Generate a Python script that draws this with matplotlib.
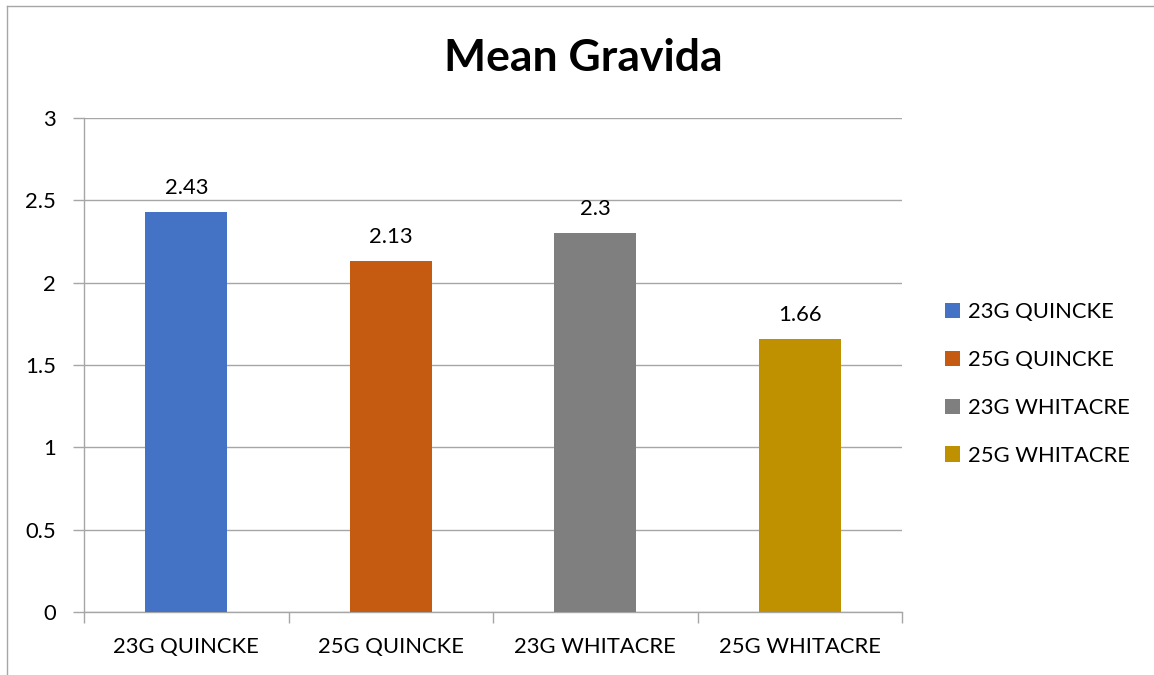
"""Mean Gravida by needle type - clustered column chart."""

import matplotlib

matplotlib.use("Agg")
import matplotlib.pyplot as plt  # noqa: E402
from matplotlib.lines import Line2D  # noqa: E402
from matplotlib.patches import Patch  # noqa: E402

categories = ["23G QUINCKE", "25G QUINCKE", "23G WHITACRE", "25G WHITACRE"]
values = [2.43, 2.13, 2.3, 1.66]
value_labels = ["2.43", "2.13", "2.3", "1.66"]
y_ticks = [0, 0.5, 1, 1.5, 2, 2.5, 3]
y_tick_labels = ["0", "0.5", "1", "1.5", "2", "2.5", "3"]

COLORS = ["#4472C4", "#C55A11", "#7F7F7F", "#BF9000"]
GRID = "#A6A6A6"
AXIS = "#A6A6A6"
FS = 15.8

plt.rcParams["font.family"] = ["Lato", "DejaVu Sans"]

fig = plt.figure(figsize=(11.54, 6.75), dpi=100)
ax = fig.add_axes((84 / 1154, 1 - 612 / 675, (902 - 84) / 1154, (612 - 118) / 675))

x = list(range(len(categories)))
ax.bar(x, values, width=0.4, color=COLORS, zorder=3)

for xi, v, lab in zip(x, values, value_labels):
    ax.annotate(lab, (xi, v), xytext=(0, 10), textcoords="offset points",
                ha="center", va="bottom", fontsize=FS, color="#000000")

ax.set_xlim(-0.5, len(categories) - 0.5)
ax.set_ylim(0, 3)
ax.set_yticks(y_ticks)
ax.set_yticklabels(y_tick_labels)
ax.yaxis.grid(True, color=GRID, lw=1, zorder=0)

# category boundaries get the tick marks, labels sit in between
ax.set_xticks([i - 0.5 for i in range(len(categories) + 1)])
ax.set_xticklabels([])
ax.set_xticks(x, minor=True)
ax.set_xticklabels(categories, minor=True)
ax.tick_params(axis="x", which="major", length=8, color=AXIS, width=1)
ax.tick_params(axis="x", which="minor", length=0, pad=18, labelsize=FS)
ax.tick_params(axis="y", length=8, color=AXIS, width=1, pad=12, labelsize=FS)

for side in ("top", "right"):
    ax.spines[side].set_visible(False)
for side in ("left", "bottom"):
    ax.spines[side].set_color(AXIS)
    ax.spines[side].set_linewidth(1)

fig.text(583 / 1154, 1 - 58 / 675, "Mean Gravida", ha="center", va="center",
         fontsize=32, fontweight="bold")

handles = [Patch(facecolor=c, edgecolor="none") for c in COLORS]
fig.legend(handles, categories, loc="center left",
           bbox_to_anchor=(925 / 1154, 1 - 384 / 675), frameon=False,
           fontsize=FS, handlelength=0.7, handleheight=0.7,
           handletextpad=0.35, labelspacing=1.27)

# outer chart border (left and top only visible in the crop)
fig.add_artist(Line2D([7 / 1154, 7 / 1154], [0, 1 - 6 / 675],
                      transform=fig.transFigure, color="#A6A6A6", lw=1))
fig.add_artist(Line2D([7 / 1154, 1], [1 - 6 / 675, 1 - 6 / 675],
                      transform=fig.transFigure, color="#A6A6A6", lw=1))

fig.savefig("out.png", dpi=100)
